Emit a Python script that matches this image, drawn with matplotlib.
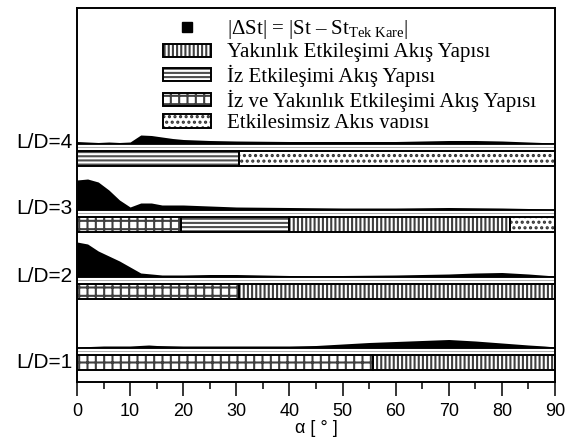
import matplotlib
matplotlib.use("Agg")
import matplotlib.pyplot as plt
import numpy as np
from matplotlib.lines import Line2D
from matplotlib.patches import Patch
from matplotlib.transforms import Bbox, blended_transform_factory

plt.rcParams["font.family"] = ["Liberation Sans", "DejaVu Sans"]
plt.rcParams["mathtext.fontset"] = "custom"
plt.rcParams["mathtext.rm"] = "Liberation Serif"
plt.rcParams["mathtext.it"] = "Liberation Serif:italic"
plt.rcParams["mathtext.bf"] = "Liberation Serif:bold"
plt.rcParams["hatch.linewidth"] = 1.5

# |dSt| along the angle of attack, one curve per spacing ratio
alpha_ld4 = [0, 2, 4, 6, 8, 10, 11, 12, 14, 16, 18, 20, 25, 30, 40, 50, 60, 65, 70, 75, 80, 85, 90]
dst_ld4 = [0.002, 0.0015, 0.001, 0.0015, 0.001, 0.0015, 0.005, 0.0085, 0.008, 0.0065, 0.005,
           0.004, 0.003, 0.0025, 0.002, 0.002, 0.002, 0.0025, 0.003, 0.003, 0.0025, 0.0015, 0.0005]

alpha_ld3 = [0, 2, 4, 6, 8, 10, 12, 14, 16, 20, 25, 30, 40, 50, 60, 70, 80, 85, 90]
dst_ld3 = [0.030, 0.031, 0.028, 0.020, 0.010, 0.003, 0.007, 0.007, 0.005, 0.005, 0.004,
           0.003, 0.0025, 0.002, 0.002, 0.0025, 0.002, 0.0015, 0.0005]

alpha_ld2 = [0, 2, 4, 6, 8, 10, 12, 14, 16, 20, 25, 30, 35, 40, 45, 50, 60, 70, 75, 80, 85, 90]
dst_ld2 = [0.035, 0.033, 0.026, 0.021, 0.016, 0.010, 0.004, 0.003, 0.002, 0.002, 0.0025,
           0.0025, 0.002, 0.0015, 0.0012, 0.0015, 0.002, 0.003, 0.004, 0.0045, 0.003, 0.001]

alpha_ld1 = [0, 5, 10, 13.5, 15, 20, 30, 40, 45, 50, 55, 60, 65, 70, 75, 80, 85, 88, 90]
dst_ld1 = [0.001, 0.002, 0.002, 0.003, 0.0025, 0.002, 0.002, 0.002, 0.0025, 0.004, 0.0055,
           0.0065, 0.0075, 0.0085, 0.007, 0.005, 0.003, 0.002, 0.001]

# flow regime bands: segment edges in degrees and regime of each segment
edges_ld4 = [0, 30.5, 90]
regime_ld4 = ["iz", "yok"]
edges_ld3 = [0, 19.5, 40, 81.5, 90]
regime_ld3 = ["iz_yakin", "iz", "yakin", "yok"]
edges_ld2 = [0, 30.5, 90]
regime_ld2 = ["iz_yakin", "yakin"]
edges_ld1 = [0, 55.8, 90]
regime_ld1 = ["iz_yakin", "yakin"]

row_names = ["L/D=4", "L/D=3", "L/D=2", "L/D=1"]
legend_labels = [
    r"|ΔSt| = |St – St$_{\mathrm{Tek\ Kare}}$|",
    "Yakınlık Etkileşimi Akış Yapısı",
    "İz Etkileşimi Akış Yapısı",
    "İz ve Yakınlık Etkileşimi Akış Yapısı",
    "Etkileşimsiz Akış yapısı",
]

REGIME_STYLE = {
    "yakin": dict(hatch="||||", edgecolor="#404040"),
    "iz": dict(hatch="----", edgecolor="#505050"),
    "iz_yakin": dict(hatch="++", edgecolor="#404040"),
    "yok": dict(hatch="...", edgecolor="#303030"),
}
REGIME_ORDER = ["yakin", "iz", "iz_yakin", "yok"]

# layout in axes data units (y measured upward from the bottom spine)
ST_SCALE = 1000.0
baselines = [238.5, 172, 105, 34]
label_y = [240, 174, 106, 19]
BAR_GAP = 7
BAR_H = 15
EDGE_LW = 1.4

curves = [(alpha_ld4, dst_ld4), (alpha_ld3, dst_ld3), (alpha_ld2, dst_ld2), (alpha_ld1, dst_ld1)]
bands = [(edges_ld4, regime_ld4), (edges_ld3, regime_ld3), (edges_ld2, regime_ld2), (edges_ld1, regime_ld1)]

fig = plt.figure(figsize=(5.75, 4.41), dpi=100)
ax = fig.add_axes([77 / 575, 59 / 441, 478 / 575, 374.5 / 441])
ax.set_xlim(0, 90)
ax.set_ylim(0, 374.5)

for (a, d), (edges, regimes), base in zip(curves, bands, baselines):
    top = base + np.asarray(d) * ST_SCALE
    ax.fill_between(a, base, top, color="black", lw=0, zorder=3)
    ax.axhline(base, color="black", lw=1.3, zorder=3)
    ax.axhline(base - 3, color="#b0b0b0", lw=0.7, zorder=2)

    yc = base - BAR_GAP - BAR_H / 2
    for left, right, reg in zip(edges[:-1], edges[1:], regimes):
        ax.barh(yc, right - left, left=left, height=BAR_H, color="white", lw=0,
                zorder=2, **REGIME_STYLE[reg])
        ax.barh(yc, right - left, left=left, height=BAR_H, fill=False,
                edgecolor="black", lw=EDGE_LW, zorder=4)

trans = blended_transform_factory(ax.transAxes, ax.transData)
for name, y in zip(row_names, label_y):
    ax.text(-0.009, y, name, transform=trans, ha="right", va="center", fontsize=15)

handles = [Line2D([], [], marker="s", color="black", ls="none", markersize=7)]
for reg in REGIME_ORDER:
    handles.append((Patch(facecolor="white", lw=0, **REGIME_STYLE[reg]),
                    Patch(fill=False, edgecolor="black", lw=EDGE_LW)))

leg = ax.legend(handles, legend_labels, loc="upper left", bbox_to_anchor=(0.18, 0.972),
                frameon=False, borderpad=0, borderaxespad=0,
                prop={"family": "Liberation Serif", "size": 15},
                handlelength=2.3, handleheight=0.6, handletextpad=0.75, labelspacing=0.12)

ax.set_xticks(range(0, 91, 10))
ax.set_xticks(range(5, 90, 10), minor=True)
ax.set_yticks([])
ax.tick_params(axis="x", which="major", direction="out", length=10, width=1.1,
               labelsize=13, pad=5)
ax.tick_params(axis="x", which="minor", direction="out", length=5, width=1.1)
for s in ax.spines.values():
    s.set_linewidth(1.4)
ax.set_xlabel("α [ ° ]", fontsize=13, labelpad=0)

# the last legend row runs into the L/D=4 trace: cut it at its baseline
fig.canvas.draw()
renderer = fig.canvas.get_renderer()
last = leg.get_texts()[-1]
bb = last.get_window_extent(renderer)
_, _, descent = renderer.get_text_width_height_descent(
    last.get_text(), last.get_fontproperties(), ismath=False)
last.set_clip_box(Bbox.from_extents(bb.x0 - 5, bb.y0 + descent, bb.x1 + 5, bb.y1 + 5))
last.set_clip_on(True)

fig.savefig("out.png", dpi=100)
